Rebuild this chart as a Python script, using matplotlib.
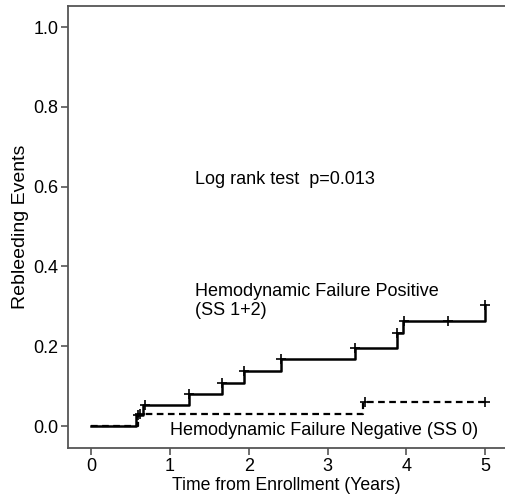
import matplotlib
matplotlib.use("Agg")
import matplotlib.pyplot as plt

plt.rcParams['font.family'] = ['Liberation Sans', 'DejaVu Sans']

# Hemodynamic Failure Positive (SS 1+2): step times and cumulative event levels
pos_times = [0.0, 0.57, 0.66, 1.245, 1.66, 1.94, 2.41, 3.35, 3.88, 3.96, 5.0]
pos_levels = [0.0, 0.027, 0.053, 0.080, 0.108, 0.138, 0.168, 0.196, 0.233, 0.263, 0.303]
pos_end = 5.0
pos_cens_t = [0.60, 0.68, 1.25, 1.66, 1.94, 2.41, 3.35, 3.88, 3.97, 4.53, 5.0]
pos_cens_y = [0.027, 0.053, 0.080, 0.108, 0.138, 0.168, 0.196, 0.233, 0.263, 0.263, 0.303]

# Hemodynamic Failure Negative (SS 0)
neg_times = [0.0, 0.60, 3.45]
neg_levels = [0.0, 0.030, 0.060]
neg_end = 5.0
neg_cens_t = [0.62, 3.47, 5.0]
neg_cens_y = [0.030, 0.060, 0.060]

xticks = [0, 1, 2, 3, 4, 5]
yticks = [0.0, 0.2, 0.4, 0.6, 0.8, 1.0]

fig = plt.figure(figsize=(5.05, 4.99), dpi=100)
ax = fig.add_axes([68/505, 1-448/499, 1-68/505, (448-6)/499])

spine_col = '#555555'
for s in ['left', 'top', 'bottom']:
    ax.spines[s].set_color(spine_col)
    ax.spines[s].set_linewidth(1.3)
ax.spines['right'].set_visible(False)

ax.step(neg_times + [neg_end], neg_levels + [neg_levels[-1]], where='post',
        color='black', lw=1.6, ls=(0, (3, 2)), zorder=2)
ax.step(pos_times + [pos_end], pos_levels + [pos_levels[-1]], where='post',
        color='black', lw=1.8, zorder=3)
ax.plot(pos_cens_t, pos_cens_y, ls='none', marker='+', ms=7, mew=1.2, color='black', zorder=4)
ax.plot(neg_cens_t, neg_cens_y, ls='none', marker='+', ms=7, mew=1.2, color='black', zorder=4)

ax.set_xlim(-0.29, 5.25)
ax.set_ylim(-0.055, 1.053)
ax.set_xticks(xticks)
ax.set_xticklabels([str(v) for v in xticks])
ax.set_yticks(yticks)
ax.set_yticklabels([f"{v:.1f}" for v in yticks])
ax.tick_params(axis='both', direction='out', length=5, width=1.2, color=spine_col,
               labelsize=13, pad=2)

ax.set_xlabel('Time from Enrollment (Years)', fontsize=12.7, labelpad=2)
ax.set_ylabel('Rebleeding Events', fontsize=14, labelpad=3)

ax.text(1.32, 0.617, 'Log rank test  p=0.013', fontsize=13, va='center', ha='left')
ax.text(1.32, 0.313, 'Hemodynamic Failure Positive\n(SS 1+2)', fontsize=13,
        va='center', ha='left', linespacing=1.15)
ax.text(1.0, -0.012, 'Hemodynamic Failure Negative (SS 0)', fontsize=13,
        va='center', ha='left')

fig.savefig('out.png', dpi=100)
